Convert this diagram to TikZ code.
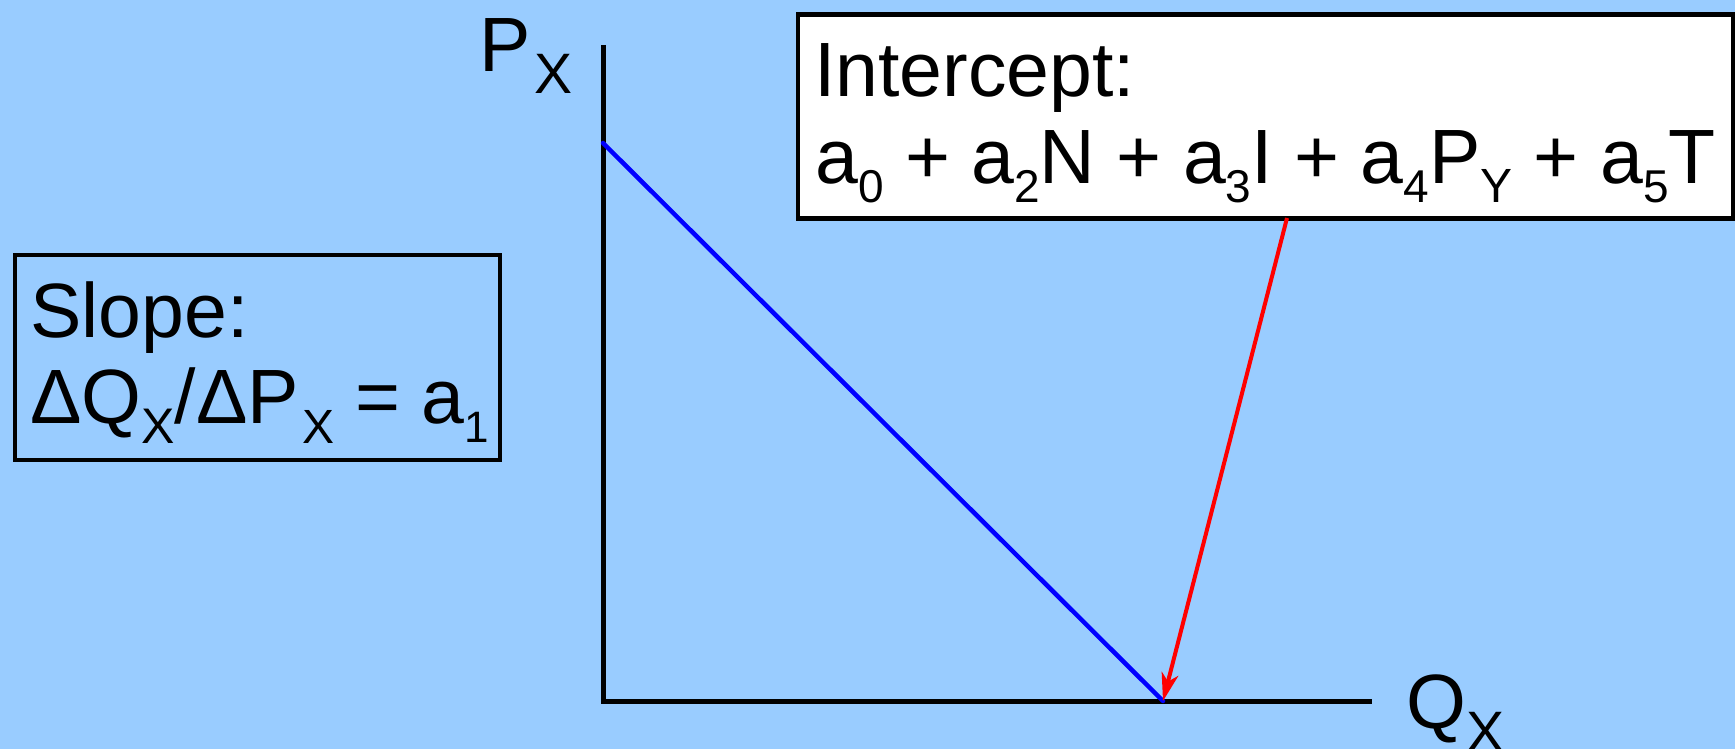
\documentclass[tikz,border=0pt]{standalone}
\usepackage{fontspec}
\setmainfont{Liberation Sans}
\usetikzlibrary{arrows.meta}
\definecolor{bgblue}{RGB}{153,204,255}
\newcommand\sbx[3]{\raisebox{-#2pt}{\fontsize{#1}{#1}\selectfont #3}}
\tikzset{
  lbl/.style={anchor=base west, inner sep=0pt, font=\fontsize{77}{77}\selectfont},
  infobox/.style={draw=black, line width=4.5pt, inner sep=0pt, anchor=north west},
  axisline/.style={draw=black, line width=5pt},
  demand/.style={draw=blue, line width=4.5pt},
  pointer/.style={draw=red, line width=4pt, -{Stealth[length=28pt, width=17pt, inset=8pt]}}
}
\begin{document}
\begin{tikzpicture}[x=1pt, y=-1pt]
\fill[bgblue] (0,0) rectangle (1735,749);
\useasboundingbox (0,0) rectangle (1735,749);
% boxes
\node[infobox, fill=white, minimum width=935.5pt, minimum height=203.5pt] (ibox) at (795.5,12.5) {};
\node[infobox, minimum width=485pt, minimum height=205pt] (sbox) at (12.5,252.5) {};
% box texts
\node[lbl] (itxt1) at (814,97) {Intercept:};
\node[lbl] (itxt2) at (815,183) {a\sbx{46}{19}{0} + a\sbx{46}{19}{2}N + a\sbx{46}{19}{3}I + a\sbx{46}{19}{4}P\sbx{48}{19}{Y} + a\sbx{46}{19}{5}T};
\node[lbl] (stxt1) at (30,337) {Slope:};
\node[lbl] (stxt2) at (30,423) {ΔQ\sbx{50}{20}{X}/ΔP\kern3pt\sbx{48}{20}{X} = a\sbx{44}{19}{1}};
% axis labels
\node[lbl] (plbl) at (479,72) {P\kern4pt\sbx{57}{22}{X}};
\node[lbl] (qlbl) at (1406,728) {Q\sbx{57}{23}{X}};
% axes
\coordinate (ytop) at (603,45);
\coordinate (orig) at (603,701);
\coordinate (xend) at (1372,701);
\coordinate (pint) at (603,143);
\coordinate (qint) at (1163,701);
\coordinate (rstart) at (1287,218);
\draw[axisline] (ytop) -- (orig) -- (xend);
\draw[demand, line cap=round] (pint) -- (qint);
\draw[pointer] (rstart) -- (qint);
\end{tikzpicture}
\end{document}
